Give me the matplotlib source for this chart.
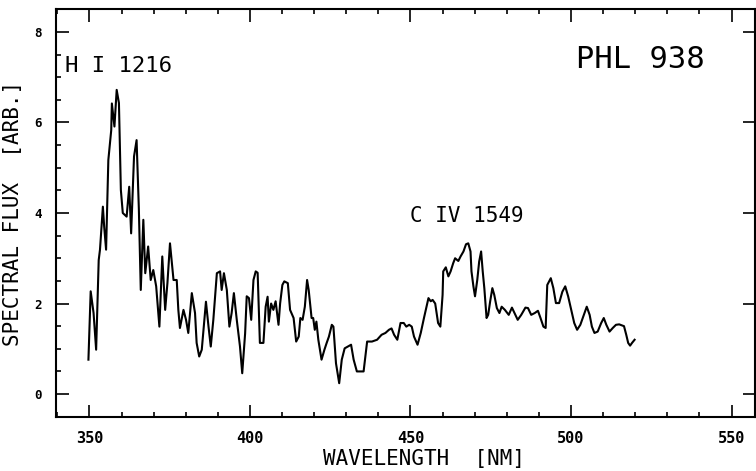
import matplotlib
matplotlib.use("Agg")
import matplotlib.pyplot as plt
from matplotlib.ticker import MultipleLocator

# spectrum: wavelength [nm], flux [arb.]
wavelength = [
    349.7, 350.4, 351.3, 352.1, 352.5, 352.9, 353.3, 354.2, 354.6, 355.2,
    355.9, 356.8, 357.0, 357.8, 358.5, 359.2, 359.8, 360.4, 361.6, 362.4,
    363.0, 363.9, 364.7, 365.4, 366.0, 366.8, 367.4, 368.3, 369.1, 369.9,
    370.8, 371.8, 372.7, 373.6, 374.3, 375.1, 376.2, 377.2, 377.7, 378.2,
    379.3, 380.1, 380.8, 381.9, 382.9, 383.4, 384.2, 385.0, 386.3, 387.1,
    387.8, 388.6, 389.7, 390.7, 391.2, 391.9, 392.8, 393.6, 394.3, 395.0,
    395.9, 396.9, 397.6, 398.5, 399.0, 399.7, 400.4, 401.1, 401.8, 402.4,
    403.1, 404.2, 404.9, 405.5, 405.9, 406.6, 407.3, 408.0, 408.9, 409.4,
    410.1, 410.7, 411.8, 412.5, 413.6, 414.4, 415.2, 415.7, 416.4, 417.1,
    417.8, 418.3, 419.2, 419.7, 420.2, 420.7, 421.3, 422.3, 423.2, 423.9,
    424.6, 425.5, 426.0, 426.8, 427.8, 428.6, 429.5, 430.5, 431.5, 432.3,
    433.3, 435.4, 436.5, 438.0, 439.6, 441.0, 442.2, 443.3, 444.1, 444.9,
    445.9, 446.9, 447.9, 448.7, 449.6, 450.4, 451.1, 452.2, 453.2, 454.2,
    455.6, 456.3, 456.9, 457.7, 458.6, 459.3, 460.0, 460.2, 461.0, 461.8,
    462.5, 463.3, 463.9, 464.9, 465.6, 466.5, 467.3, 468.0, 468.7, 469.0,
    469.6, 470.1, 470.8, 471.4, 472.0, 472.5, 473.0, 473.7, 474.2, 474.8,
    475.5, 476.1, 476.9, 477.7, 478.4, 479.4, 480.6, 481.6, 482.4, 483.4,
    484.5, 485.8, 486.6, 487.6, 488.7, 489.7, 490.5, 491.4, 492.1, 492.6,
    493.7, 494.5, 495.3, 496.3, 497.3, 498.2, 499.1, 500.2, 501.0, 501.9,
    502.9, 504.0, 504.9, 505.8, 506.5, 507.3, 508.3, 509.4, 510.2, 511.0,
    512.0, 513.0, 514.0, 515.0, 516.5, 517.2, 517.8, 518.4, 519.0, 519.8,
]
flux = [
    0.76, 2.27, 1.79, 0.98, 1.93, 2.96, 3.19, 4.14, 3.70, 3.19,
    5.17, 5.83, 6.42, 5.91, 6.72, 6.43, 4.51, 4.00, 3.92, 4.58,
    3.55, 5.25, 5.61, 4.10, 2.30, 3.85, 2.67, 3.26, 2.52, 2.74,
    2.38, 1.49, 3.04, 1.86, 2.45, 3.33, 2.52, 2.52, 1.86, 1.46,
    1.86, 1.64, 1.35, 2.23, 1.79, 1.13, 0.83, 0.98, 2.04, 1.49,
    1.05, 1.64, 2.67, 2.71, 2.30, 2.67, 2.30, 1.49, 1.79, 2.23,
    1.64, 1.05, 0.46, 1.34, 2.16, 2.12, 1.64, 2.52, 2.71, 2.68,
    1.13, 1.13, 1.93, 2.15, 1.60, 2.00, 1.86, 2.05, 1.53, 2.00,
    2.41, 2.49, 2.45, 1.86, 1.68, 1.16, 1.27, 1.68, 1.64, 1.93,
    2.52, 2.30, 1.68, 1.68, 1.42, 1.60, 1.20, 0.76, 0.98, 1.13,
    1.27, 1.53, 1.49, 0.68, 0.24, 0.76, 1.01, 1.05, 1.09, 0.76,
    0.50, 0.50, 1.16, 1.16, 1.20, 1.31, 1.35, 1.42, 1.45, 1.31,
    1.20, 1.57, 1.57, 1.49, 1.53, 1.49, 1.27, 1.09, 1.35, 1.68,
    2.12, 2.05, 2.08, 2.00, 1.57, 1.49, 2.19, 2.71, 2.80, 2.60,
    2.71, 2.89, 3.00, 2.94, 3.04, 3.15, 3.31, 3.33, 3.15, 2.71,
    2.38, 2.16, 2.52, 2.93, 3.15, 2.71, 2.34, 1.68, 1.75, 2.04,
    2.34, 2.19, 1.90, 1.79, 1.93, 1.86, 1.75, 1.91, 1.79, 1.64,
    1.75, 1.91, 1.90, 1.75, 1.79, 1.84, 1.68, 1.49, 1.46, 2.41,
    2.56, 2.34, 2.01, 2.01, 2.26, 2.38, 2.16, 1.82, 1.57, 1.42,
    1.53, 1.75, 1.93, 1.75, 1.49, 1.35, 1.38, 1.57, 1.68, 1.53,
    1.38, 1.46, 1.53, 1.54, 1.50, 1.31, 1.13, 1.07, 1.13, 1.20,
]

x_ticks = [350, 400, 450, 500, 550]
y_ticks = [0, 2, 4, 6, 8]

plt.rcParams['font.family'] = ['DejaVu Sans Mono', 'DejaVu Sans']

fig = plt.figure(figsize=(7.56, 4.71), dpi=100)
ax = fig.add_axes([56/756, 1-416.7/471, 699/756, 407.4/471])

ax.plot(wavelength, flux, color='black', lw=1.5)

ax.set_xlim(339.6, 557.3)
ax.set_ylim(-0.5, 8.5)
ax.set_xticks(x_ticks)
ax.set_yticks(y_ticks)
ax.xaxis.set_minor_locator(MultipleLocator(10))
ax.yaxis.set_minor_locator(MultipleLocator(0.5))

ax.tick_params(which='both', direction='in', top=True, right=True, width=1.2, color='black')
ax.tick_params(which='major', length=9)
ax.tick_params(which='minor', length=3.5)
ax.tick_params(axis='y', which='minor', right=False)
ax.tick_params(axis='x', labelsize=11, pad=10)
ax.tick_params(axis='y', labelsize=9, pad=10)
for lab in ax.get_xticklabels() + ax.get_yticklabels():
    lab.set_fontweight('bold')

for sp in ax.spines.values():
    sp.set_linewidth(1.5)

ax.set_xlabel('WAVELENGTH  [NM]', fontsize=15)
ax.set_ylabel('SPECTRAL FLUX  [ARB.]', fontsize=15)
ax.xaxis.set_label_coords(0.526, -0.08)
ax.yaxis.set_label_coords(-0.047, 0.5)

ax.text(342.4, 7.24, 'H I 1216', fontsize=16, va='center', ha='left')
ax.text(449.8, 3.93, 'C IV 1549', fontsize=15, va='center', ha='left')
ax.text(501.6, 7.38, 'PHL 938', fontsize=22, va='center', ha='left')

plt.savefig('out.png', dpi=100)
